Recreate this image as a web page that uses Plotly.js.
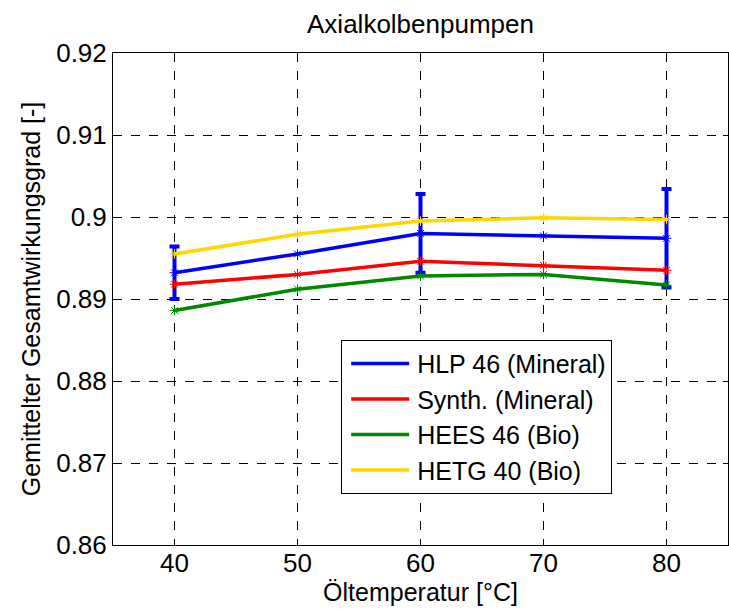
<!DOCTYPE html>
<html>
<head>
<meta charset="utf-8">
<script src="https://cdn.plot.ly/plotly-3.0.1.min.js"></script>
<style>
  html, body { margin: 0; padding: 0; background: #fff; }
  #chart { width: 729px; height: 609px; }
</style>
</head>
<body>
<div id="chart"></div>
<script>
// Oil temperature steps [°C]
const temperatures = [40, 50, 60, 70, 80];

// Averaged overall efficiency per fluid
const hlp46   = [0.8932, 0.8955, 0.8980, 0.8977, 0.8974];
const synth   = [0.8918, 0.8930, 0.8946, 0.8941, 0.8935];
const hees46  = [0.8886, 0.8912, 0.8928, 0.8930, 0.8917];
const hetg40  = [0.8955, 0.8979, 0.8995, 0.8999, 0.8997];

// Spread of HLP 46 (measured at 40, 60, 80 °C)
const hlpErrTemps = [40, 60, 80];
const hlpErrMean  = [0.8932, 0.8980, 0.8974];
const hlpErrHalf  = [0.0032, 0.0048, 0.0060];

const seriesNames  = ['HLP 46 (Mineral)', 'Synth. (Mineral)', 'HEES 46 (Bio)', 'HETG 40 (Bio)'];
const seriesValues = [hlp46, synth, hees46, hetg40];
const seriesColors = ['#0000ff', '#ff0000', '#008800', '#ffd700'];

const fontFamily = 'Liberation Sans, Arial, sans-serif';
const traces = [];

// error bars drawn first so the curves sit on top
traces.push({
  x: hlpErrTemps,
  y: hlpErrMean,
  mode: 'markers',
  marker: { size: 0.1, color: 'rgba(0,0,0,0)' },
  showlegend: false,
  hoverinfo: 'skip',
  error_y: { type: 'data', array: hlpErrHalf, visible: true, color: '#0000ff', thickness: 4, width: 5 }
});

// curves (legend entries show the line only)
seriesNames.forEach((name, i) => {
  traces.push({
    x: temperatures,
    y: seriesValues[i],
    name: name,
    mode: 'lines',
    line: { color: seriesColors[i], width: 3.5 },
    legendrank: i + 1
  });
});

// asterisk markers at each measuring point
seriesNames.forEach((name, i) => {
  traces.push({
    x: temperatures,
    y: seriesValues[i],
    mode: 'markers',
    showlegend: false,
    hoverinfo: 'skip',
    marker: { symbol: 'asterisk-open', size: 8, color: seriesColors[i], line: { color: seriesColors[i], width: 1 } }
  });
});

const tickFont = { family: fontFamily, size: 26, color: '#000' };
const titleFont = { family: fontFamily, size: 25, color: '#000' };

const layout = {
  width: 729,
  height: 609,
  paper_bgcolor: '#fff',
  plot_bgcolor: '#fff',
  margin: { l: 113, r: 1, t: 53, b: 64 },
  title: {
    text: 'Axialkolbenpumpen',
    font: { family: fontFamily, size: 26, color: '#000' },
    x: 0.5, xanchor: 'center', xref: 'paper',
    y: 1, yref: 'paper', yanchor: 'bottom', pad: { b: 20 }
  },
  xaxis: {
    range: [35, 85],
    tickvals: [40, 50, 60, 70, 80],
    ticktext: ['40', '50', '60', '70', '80'],
    ticks: 'inside', ticklen: 5, tickcolor: '#000',
    ticklabelstandoff: -5,
    showline: true, linecolor: '#000', linewidth: 1, mirror: 'ticks',
    showgrid: true, gridcolor: '#000', griddash: 'dash', gridwidth: 1,
    zeroline: false,
    tickfont: tickFont,
    title: { text: 'Öltemperatur [°C]', font: titleFont, standoff: 0 }
  },
  yaxis: {
    range: [0.86, 0.92],
    tickvals: [0.86, 0.87, 0.88, 0.89, 0.9, 0.91, 0.92],
    ticktext: ['0.86', '0.87', '0.88', '0.89', '0.9', '0.91', '0.92'],
    ticks: 'inside', ticklen: 5, tickcolor: '#000',
    showline: true, linecolor: '#000', linewidth: 1, mirror: 'ticks',
    showgrid: true, gridcolor: '#000', griddash: 'dash', gridwidth: 1,
    zeroline: false,
    tickfont: tickFont,
    title: { text: 'Gemittelter Gesamtwirkungsgrad [-]', font: titleFont, standoff: 8 }
  },
  legend: {
    x: 0.371, y: 0.417, xanchor: 'left', yanchor: 'top',
    bgcolor: '#fff', bordercolor: '#000', borderwidth: 1,
    font: { family: fontFamily, size: 25, color: '#000' },
    tracegroupgap: 0,
    itemwidth: 65
  },
  showlegend: true
};

Plotly.newPlot('chart', traces, layout, { displayModeBar: false, staticPlot: true }).then(() => {
  // longer line samples in the legend
  document.querySelectorAll('#chart .legend .legendlines path').forEach(p => {
    p.setAttribute('d', 'M9,0h58');
  });
});
</script>
</body>
</html>
